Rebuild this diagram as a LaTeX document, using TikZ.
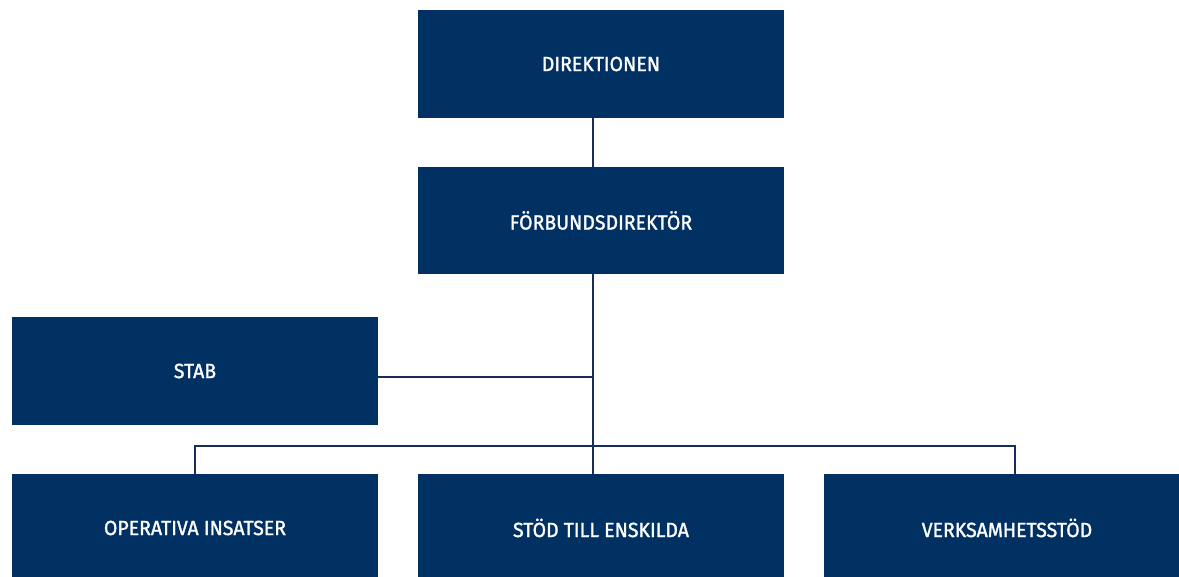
\documentclass[tikz,border=0pt]{standalone}
\usepackage{fontspec}
\setmainfont{Fira Sans}[FakeStretch=0.95, FakeBold=1.4]
\definecolor{navy}{HTML}{013063}
\definecolor{linecol}{HTML}{1A2E5C}
\tikzset{
  box/.style={fill=navy, draw=none, text=white, minimum width=366pt, minimum height=108pt, inner sep=0pt, font=\fontsize{20.5}{24}\selectfont},
  conn/.style={draw=linecol, line width=2pt}
}
\begin{document}
\begin{tikzpicture}[x=1pt,y=-1pt]
\useasboundingbox (0,0) rectangle (1179,577);
\begin{scope}
\clip (0,0) rectangle (1179,577);
\node[box] (dir) at (601,64) {DIREKTIONEN};
\node[box, minimum height=107pt] (fb) at (601,220.5) {FÖRBUNDSDIREKTÖR};
\node[box] (stab) at (195,371) {STAB};
\node[box] (op) at (195,528) {OPERATIVA INSATSER};
\node[box] (st) at (601,528) {STÖD TILL ENSKILDA};
\node[box] (vs) at (1007,528) {VERKSAMHETSSTÖD};
\end{scope}
\coordinate (trunk) at (593,446);
\coordinate (stabj) at (593,377);
\draw[conn] (dir.south -| trunk) -- (fb.north -| trunk);
\draw[conn] (fb.south -| trunk) -- (trunk);
\draw[conn] (stab.east |- stabj) -- (stabj);
\draw[conn] (op.north -| 195,0) -- (195,446) -- (1015,446) -- (vs.north -| 1015,0);
\draw[conn] (trunk) -- (st.north -| trunk);
\end{tikzpicture}
\end{document}
